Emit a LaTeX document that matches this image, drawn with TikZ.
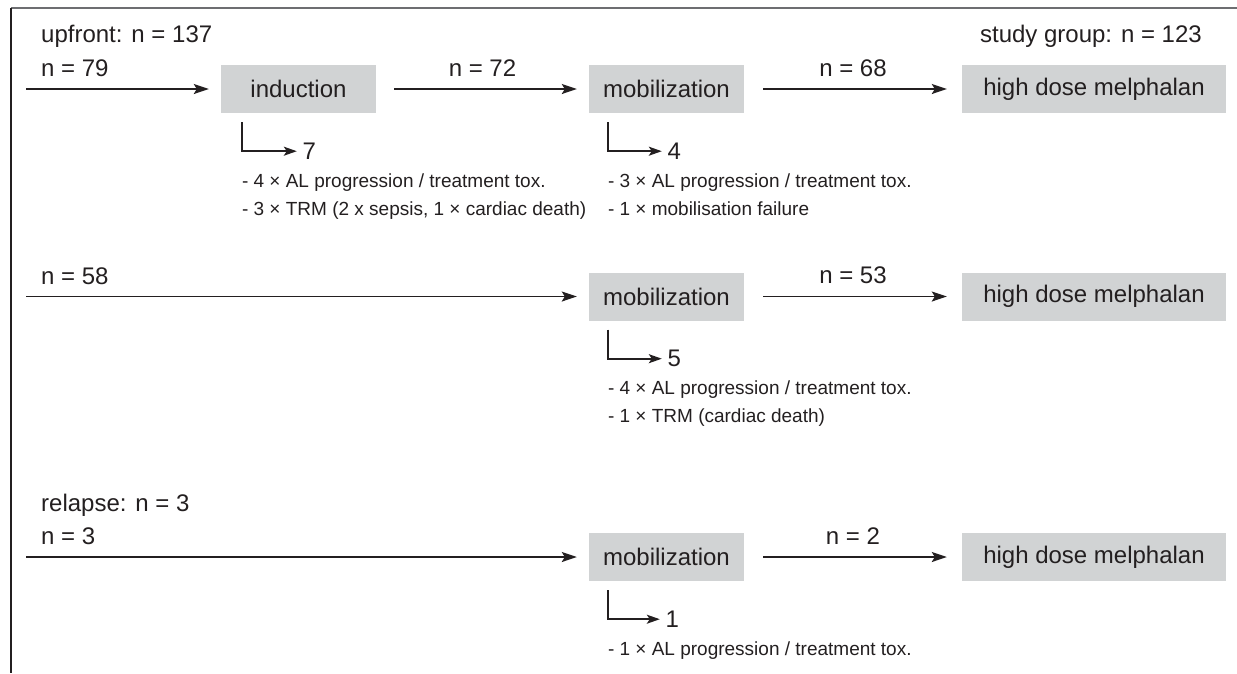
\documentclass[tikz,border=0pt]{standalone}
\usepackage{fontspec}
\setmainfont{Liberation Sans}
\usetikzlibrary{arrows.meta,calc}
\definecolor{ink}{HTML}{231F20}
\definecolor{boxgray}{HTML}{D1D3D4}
\definecolor{framegray}{HTML}{6D6E71}
\begin{document}
\begin{tikzpicture}[x=1pt,y=-1pt,
  font=\fontsize{24}{28}\selectfont, text=ink,
  stage/.style={fill=boxgray, minimum width=155pt, minimum height=48pt, inner sep=0pt},
  wide/.style={stage, minimum width=264pt},
  flow/.style={draw=ink, line width=1.8pt, -{Stealth[length=15pt,width=10pt,inset=3pt]}},
  exit/.style={draw=ink, line width=1.6pt, -{Stealth[length=13pt,width=9pt,inset=3pt]}},
  lbl/.style={anchor=base west, inner sep=0pt},
  cnt/.style={anchor=base, inner sep=0pt, yshift=13pt},
  note/.style={anchor=base west, inner sep=0pt, font=\fontsize{19}{23}\selectfont},
  num/.style={anchor=west, inner sep=0pt, xshift=5pt}]
\useasboundingbox (0,0) rectangle (1237,673);
% frame
\draw[framegray, line width=1.6pt] (11,8) -- (1237,8);
\draw[ink, line width=2.2pt] (11,8) -- (11,673);

% ---------- row 1 ----------
\node[lbl] (up) at (41,42) {upfront: n = 137};
\node[anchor=base east, inner sep=0pt] (sg) at (1202,42) {study group: n = 123};
\node[lbl] (nA) at (41,76) {n = 79};
\node[stage] (ind) at (298.5,89) {induction};
\node[stage] (mobA) at (666.5,89) {mobilization};
\node[wide] (hdmA) at (1094,89) {high dose melphalan};
\coordinate (sA) at (26,89);
\draw[flow, shorten >=12pt] (sA) -- (ind.west);
\draw[flow, shorten <=18pt, shorten >=12pt] (ind.east) -- node[cnt]{n = 72} (mobA.west);
\draw[flow, shorten <=19pt, shorten >=15pt] (mobA.east) -- node[cnt]{n = 68} (hdmA.west);

\coordinate (eA) at ([shift={(21,9)}]ind.south west);
\draw[exit] (eA) |- ++(55,29) node[num]{7};
\node[note] at ($(eA)+(0,65)$) {- 4 × AL progression / treatment tox.};
\node[note] at ($(eA)+(0,93)$) {- 3 × TRM (2 x sepsis, 1 × cardiac death)};

\coordinate (eB) at ([shift={(19,9)}]mobA.south west);
\draw[exit] (eB) |- ++(54,29) node[num]{4};
\node[note] at ($(eB)+(0,65)$) {- 3 × AL progression / treatment tox.};
\node[note] at ($(eB)+(0,93)$) {- 1 × mobilisation failure};

% ---------- row 2 ----------
\node[lbl] (nB) at (41,284) {n = 58};
\node[stage] (mobB) at (666.5,296.5) {mobilization};
\node[wide] (hdmB) at (1094,296.5) {high dose melphalan};
\coordinate (sB) at (26,296.5);
\draw[flow, shorten >=12pt] (sB) -- (mobB.west);
\draw[flow, shorten <=19pt, shorten >=15pt] (mobB.east) -- node[cnt]{n = 53} (hdmB.west);

\coordinate (eC) at ([shift={(19,9)}]mobB.south west);
\draw[exit] (eC) |- ++(54,29) node[num]{5};
\node[note] at ($(eC)+(0,65)$) {- 4 × AL progression / treatment tox.};
\node[note] at ($(eC)+(0,93)$) {- 1 × TRM (cardiac death)};

% ---------- row 3 ----------
\node[lbl] (rel) at (41,511) {relapse: n = 3};
\node[lbl] (nC) at (41,544) {n = 3};
\node[stage] (mobC) at (666.5,557) {mobilization};
\node[wide] (hdmC) at (1094,557) {high dose melphalan};
\coordinate (sC) at (26,557);
\draw[flow, shorten >=12pt] (sC) -- (mobC.west);
\draw[flow, shorten <=19pt, shorten >=15pt] (mobC.east) -- node[cnt]{n = 2} (hdmC.west);

\coordinate (eD) at ([shift={(19,9)}]mobC.south west);
\draw[exit] (eD) |- ++(52,29) node[num]{1};
\node[note] at ($(eD)+(0,65)$) {- 1 × AL progression / treatment tox.};
\end{tikzpicture}
\end{document}
